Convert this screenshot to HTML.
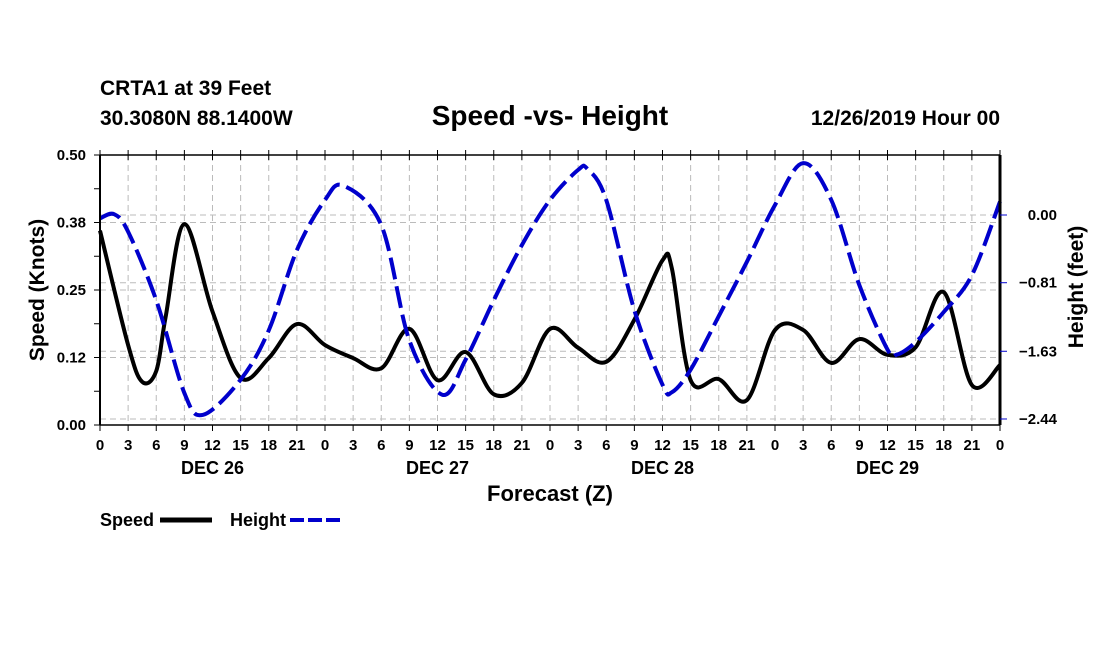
<!DOCTYPE html>
<html><head><meta charset="utf-8"><style>
body{margin:0;background:#fff;}
svg{display:block;font-family:"Liberation Sans",sans-serif;font-weight:bold;}
</style></head><body>
<svg id="chart" width="1100" height="650" xmlns="http://www.w3.org/2000/svg">
<text x="100" y="95" font-size="21">CRTA1 at 39 Feet</text>
<text x="100" y="125" font-size="21">30.3080N 88.1400W</text>
<text x="550" y="125" font-size="28" text-anchor="middle">Speed -vs- Height</text>
<text x="1000" y="125" font-size="21" text-anchor="end">12/26/2019 Hour 00</text>
<g id="grid"></g><g id="series"></g><g id="axes"></g>
<text x="44" y="290" font-size="21" text-anchor="middle" transform="rotate(-90 44 290)">Speed (Knots)</text>
<text x="1083" y="287" font-size="21" text-anchor="middle" transform="rotate(-90 1083 287)">Height (feet)</text>
<text x="550" y="501" font-size="22" text-anchor="middle">Forecast (Z)</text>
<g><text x="100" y="526" font-size="18">Speed</text><line x1="160" y1="520" x2="212" y2="520" stroke="#000" stroke-width="5"/></g>
<g><text x="230" y="526" font-size="18">Height</text><line x1="290" y1="520" x2="342" y2="520" stroke="#0000cc" stroke-width="4" stroke-dasharray="14,4"/></g>
</svg>
<script>
const speedHours=[0,3,4.5,6,7,9,12,15,18,21,24,27,30,33,36,39,42,45,48,51,54,57,60,61,63,66,69,72,75,78,81,84,87,90,93,96];
const speedValues=[0.36,0.148,0.08,0.10,0.2,0.372,0.21,0.087,0.124,0.187,0.148,0.124,0.105,0.178,0.083,0.135,0.057,0.078,0.178,0.143,0.117,0.195,0.305,0.29,0.083,0.085,0.046,0.176,0.176,0.115,0.159,0.13,0.144,0.246,0.074,0.111];
const heightHours=[0,1.5,3,6,9,11,15,18,21,24,26,30,33,36.5,39,42,45,48,51,52,54,57,60,61,63,66,69,72,75,78,81,84,85,87,90,93,96];
const heightValues=[-0.04,0.01,-0.2,-1.02,-2.13,-2.39,-1.97,-1.38,-0.42,0.18,0.35,-0.12,-1.5,-2.15,-1.73,-1.02,-0.36,0.18,0.54,0.55,0.18,-1.14,-2.03,-2.12,-1.85,-1.21,-0.56,0.12,0.62,0.18,-0.84,-1.61,-1.67,-1.52,-1.16,-0.72,0.16];
const speedTicks=[0,0.125,0.25,0.375,0.5];
const speedTickLabels=["0.00","0.12","0.25","0.38","0.50"];
const heightTicks=[0,-0.81,-1.63,-2.44];
const heightTickLabels=["0.00","\u22120.81","\u22121.63","\u22122.44"];
const dayLabels=["DEC 26","DEC 27","DEC 28","DEC 29"];
const X0=100,X1=1000,Y0=425,Y1=155,NS="http://www.w3.org/2000/svg";
const xs=h=>X0+(X1-X0)*h/96;
const ys=v=>Y0-(Y0-Y1)*v/0.5;
const yh=v=>215-83.6*v;
function mk(p,t,a){const e=document.createElementNS(NS,t);for(const k in a)e.setAttribute(k,a[k]);p.appendChild(e);return e;}
const grid=document.getElementById('grid'),axes=document.getElementById('axes'),series=document.getElementById('series');
for(let h=3;h<96;h+=3){const l=mk(grid,'line',{x1:xs(h),x2:xs(h),y1:Y1,y2:Y0,stroke:'#bbb','stroke-dasharray':'6,4'});

}
speedTicks.slice(1,4).forEach(v=>{const l=mk(grid,'line',{x1:X0,x2:X1,y1:ys(v),y2:ys(v),stroke:'#bbb','stroke-dasharray':'6,4'});

});
heightTicks.forEach(v=>{const l=mk(grid,'line',{x1:X0,x2:X1,y1:yh(v),y2:yh(v),stroke:'#bbb','stroke-dasharray':'6,4'});

});
function path(hs,vs,sc){let pts=hs.map((h,i)=>[xs(h),sc(vs[i])]);let d='M'+pts[0][0]+','+pts[0][1];
for(let i=0;i<pts.length-1;i++){const p0=pts[Math.max(0,i-1)],p1=pts[i],p2=pts[i+1],p3=pts[Math.min(pts.length-1,i+2)];
d+=` C${p1[0]+(p2[0]-p0[0])/6},${p1[1]+(p2[1]-p0[1])/6} ${p2[0]-(p3[0]-p1[0])/6},${p2[1]-(p3[1]-p1[1])/6} ${p2[0]},${p2[1]}`;}return d;}
const sp=mk(series,'path',{d:path(speedHours,speedValues,ys),fill:'none',stroke:'#000','stroke-width':4});


const hp=mk(series,'path',{d:path(heightHours,heightValues,yh),fill:'none',stroke:'#0000cc','stroke-width':4,'stroke-dasharray':'22,7'});


mk(axes,'line',{x1:X0,x2:X0,y1:Y1,y2:Y0,stroke:'#000','stroke-width':2});
mk(axes,'line',{x1:X1,x2:X1,y1:Y1,y2:Y0,stroke:'#000','stroke-width':3});
mk(axes,'line',{x1:X0,x2:X1,y1:Y1,y2:Y1,stroke:'#000','stroke-width':1.5});
mk(axes,'line',{x1:X0,x2:X1,y1:Y0,y2:Y0,stroke:'#000','stroke-width':1.5});
for(let h=0;h<=96;h+=3){mk(axes,'line',{x1:xs(h),x2:xs(h),y1:Y0,y2:Y0+6,stroke:'#000'});mk(axes,'line',{x1:xs(h),x2:xs(h),y1:Y1-5,y2:Y1+5,stroke:'#000'});
const t=mk(axes,'text',{x:xs(h),y:450,'font-size':15,'text-anchor':'middle'});t.textContent=String(h%24);

}
dayLabels.forEach((s,i)=>{const t=mk(axes,'text',{x:xs(i*24+12),y:474,'font-size':18,'text-anchor':'middle'});t.textContent=s;

});
for(let v=0;v<=0.5001;v+=0.0625){mk(axes,'line',{x1:X0-6,x2:X0,y1:ys(v),y2:ys(v),stroke:'#000'});}
speedTicks.forEach((v,i)=>{const t=mk(axes,'text',{x:86,y:ys(v)+5,'font-size':15,'text-anchor':'end'});t.textContent=speedTickLabels[i];

});
heightTicks.forEach((v,i)=>{mk(axes,'line',{x1:X1,x2:X1+7,y1:yh(v),y2:yh(v),stroke:'#0000cc'});
const t=mk(axes,'text',{x:1057,y:yh(v)+5,'font-size':15,'text-anchor':'end'});t.textContent=heightTickLabels[i];

});
</script>
</body></html>
